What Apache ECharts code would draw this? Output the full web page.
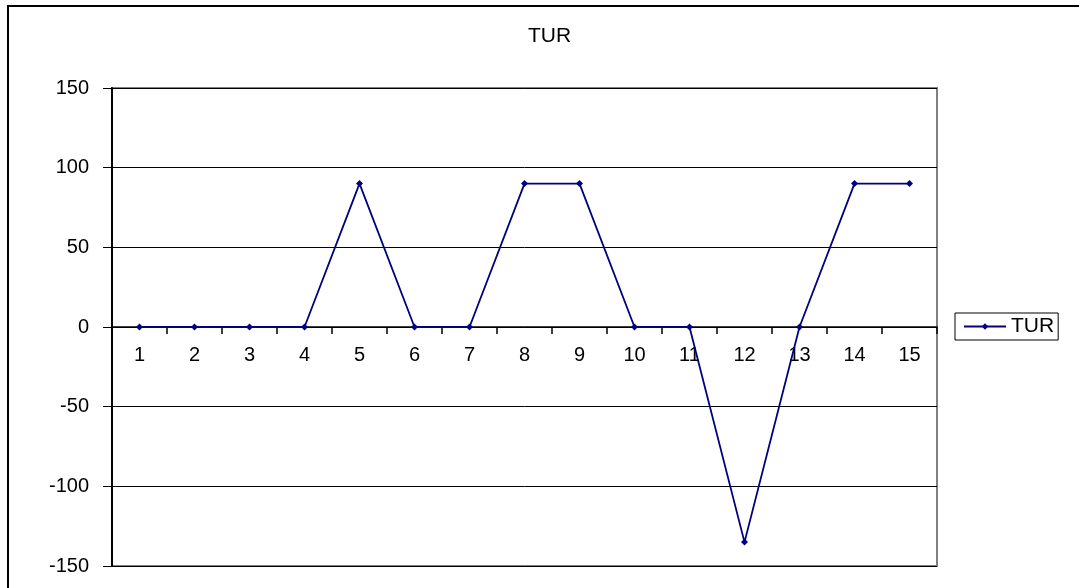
<!DOCTYPE html>
<html>
<head>
<meta charset="utf-8">
<script src="https://cdn.jsdelivr.net/npm/echarts@6/dist/echarts.min.js"></script>
<style>
  html, body { margin: 0; padding: 0; background: #fff; }
  #chart { width: 1079px; height: 588px; }
</style>
</head>
<body>
<div id="chart"></div>
<script>
// category labels along the x axis
var categories = ['1', '2', '3', '4', '5', '6', '7', '8', '9', '10', '11', '12', '13', '14', '15'];
// TUR series values
var turValues = [0, 0, 0, 0, 90, 0, 0, 90, 90, 0, 0, -135, 0, 90, 90];

var font = 'Liberation Sans, Arial, sans-serif';
var chart = echarts.init(document.getElementById('chart'));

chart.setOption({
  backgroundColor: '#fff',
  animation: false,
  textStyle: { fontFamily: font },
  graphic: [{
    type: 'rect',
    shape: { x: 8, y: 6, width: 1100, height: 620 },
    style: { fill: 'none', stroke: '#000', lineWidth: 2 },
    silent: true
  }],
  title: {
    text: 'TUR',
    left: 523,
    top: 21,
    textStyle: { fontFamily: font, fontSize: 21, fontWeight: 'normal', color: '#000' }
  },
  legend: {
    left: 955,
    top: 313,
    orient: 'vertical',
    borderColor: '#000',
    borderWidth: 1,
    padding: [3, 4, 3, 8],
    itemWidth: 42,
    itemHeight: 8,
    itemGap: 0,
    textStyle: { fontFamily: font, fontSize: 21, color: '#000' },
    data: ['TUR']
  },
  grid: {
    left: 112,
    top: 88,
    right: 142,
    bottom: 22,
    outerBoundsMode: 'none',
    containLabel: false,
    show: true,
    borderColor: '#808080',
    borderWidth: 2
  },
  xAxis: [{
    type: 'category',
    data: categories,
    boundaryGap: true,
    axisLine: { onZero: true, lineStyle: { color: '#000', width: 1.5 } },
    axisTick: { show: true, length: 7, alignWithLabel: false, lineStyle: { color: '#000', width: 1.5 } },
    axisLabel: { show: false },
    splitLine: { show: false }
  }, {
    // labels sit just under the zero line, like the original
    type: 'category',
    data: categories,
    position: 'bottom',
    offset: -240,
    boundaryGap: true,
    axisLine: { show: false },
    axisTick: { show: false },
    axisLabel: { fontFamily: font, fontSize: 20, color: '#000', margin: 19 },
    splitLine: { show: false }
  }],
  yAxis: {
    type: 'value',
    min: -150,
    max: 150,
    interval: 50,
    axisLine: { show: true, lineStyle: { color: '#000', width: 2 } },
    axisTick: { show: true, length: 9, lineStyle: { color: '#000' } },
    axisLabel: { fontFamily: font, fontSize: 20, color: '#000', margin: 23 },
    splitLine: { show: true, lineStyle: { color: '#000', width: 1 } }
  },
  series: [{
    name: 'TUR',
    type: 'line',
    xAxisIndex: 0,
    data: turValues,
    symbol: 'diamond',
    symbolSize: 7,
    showAllSymbol: true,
    itemStyle: { color: '#000080' },
    lineStyle: { color: '#000080', width: 1.8 }
  }]
});
</script>
</body>
</html>
